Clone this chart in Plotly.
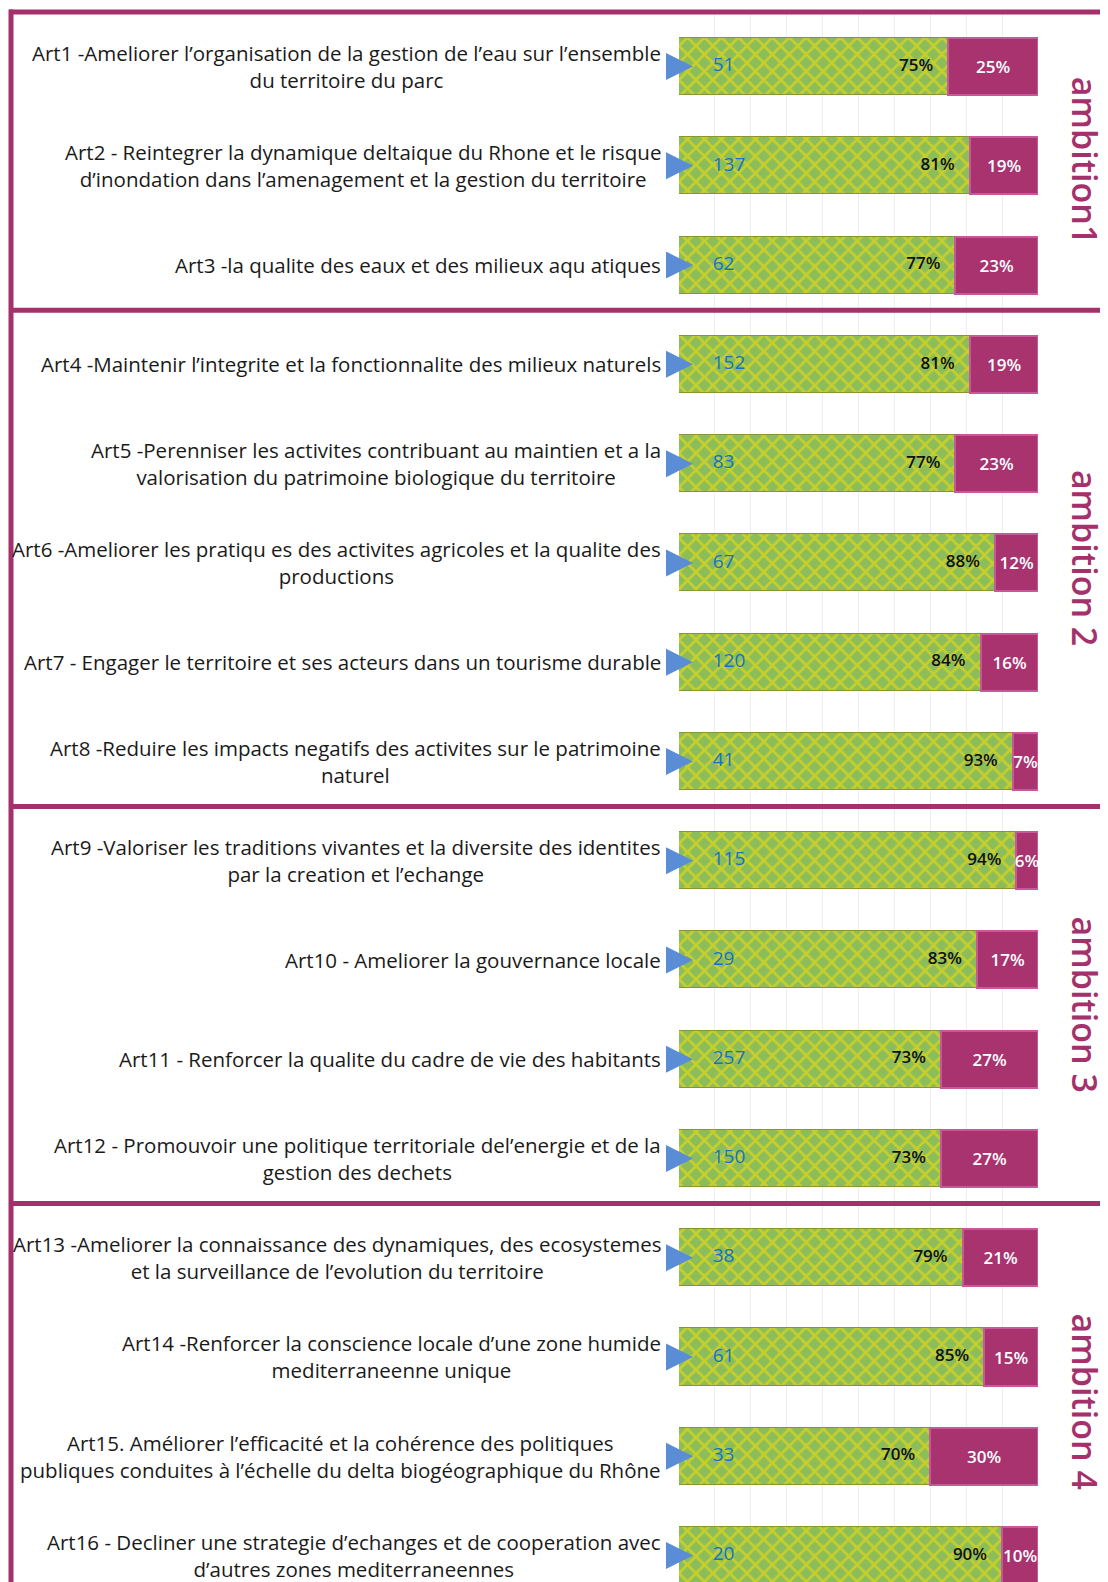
import plotly.graph_objects as go

# ---------------- data ----------------
labels = [
    "Art1 -Ameliorer l’organisation de la gestion de l’eau sur l’ensemble<br>du territoire du parc",
    "Art2 - Reintegrer la dynamique deltaique du Rhone et le risque<br>d’inondation dans l’amenagement et la gestion du territoire",
    "Art3 -la qualite des eaux et des milieux aqu atiques",
    "Art4 -Maintenir l’integrite et la fonctionnalite des milieux naturels",
    "Art5 -Perenniser les activites contribuant au maintien et a la<br>valorisation du patrimoine biologique du territoire",
    "Art6 -Ameliorer les pratiqu es des activites agricoles et la qualite des<br>productions",
    "Art7 - Engager le territoire et ses acteurs dans un tourisme durable",
    "Art8 -Reduire les impacts negatifs des activites sur le patrimoine<br>naturel",
    "Art9 -Valoriser les traditions vivantes et la diversite des identites<br>par la creation et l’echange",
    "Art10 - Ameliorer la gouvernance locale",
    "Art11 - Renforcer la qualite du cadre de vie des habitants",
    "Art12 - Promouvoir une politique territoriale del’energie et de la<br>gestion des dechets",
    "Art13 -Ameliorer la connaissance des dynamiques, des ecosystemes<br>et la surveillance de l’evolution du territoire",
    "Art14 -Renforcer la conscience locale d’une zone humide<br>mediterraneenne unique",
    "Art15. Améliorer l’efficacité et la cohérence des politiques<br>publiques conduites à l’échelle du delta biogéographique du Rhône",
    "Art16 - Decliner une strategie d’echanges et de cooperation avec<br>d’autres zones mediterraneennes",
]
counts = [51, 137, 62, 152, 83, 67, 120, 41, 115, 29, 257, 150, 38, 61, 33, 20]
pct_yes = [75, 81, 77, 81, 77, 88, 84, 93, 94, 83, 73, 73, 79, 85, 70, 90]
pct_no = [25, 19, 23, 19, 23, 12, 16, 7, 6, 17, 27, 27, 21, 15, 30, 10]
groups = ["ambition1", "ambition 2", "ambition 3", "ambition 4"]
group_sizes = [3, 5, 4, 4]

rows = list(range(1, len(labels) + 1))

# ---------------- styling ----------------
OFF = 8                      # default page (body) margin
W, H = 1108 - OFF, 1582 - OFF
L_PX, R_PX, T_PX = 679, 1038, 12   # page coordinates of plot area
PLOT_W = R_PX - L_PX
MAGENTA = "#A5316C"
YELLOW = "#C6CF2C"
GREEN = "#8BBD5A"
PINK = "#A8336F"
BLUE = "#1572C6"
LABEL_FONT = "Open Sans"


def px2paper(px):
    return (px - L_PX) / PLOT_W


fig = go.Figure()

fig.add_trace(go.Bar(
    y=rows, x=pct_yes, orientation="h", width=0.575,
    marker=dict(color=YELLOW,
                pattern=dict(shape="x", fgcolor=YELLOW, bgcolor=GREEN,
                             size=12, solidity=0.4, fillmode="replace"),
                line=dict(color="#8E9330", width=1)),
    hoverinfo="skip", showlegend=False,
))
fig.add_trace(go.Bar(
    y=rows, x=pct_no, orientation="h", width=0.575,
    marker=dict(color=PINK, line=dict(color="#C9589A", width=2)),
    text=[f"{v}%" for v in pct_no], textposition="inside", textangle=0,
    insidetextanchor="middle", constraintext="none",
    textfont=dict(color="white", size=17, family="Open Sans", weight=600),
    hoverinfo="skip", showlegend=False,
))

# percent labels at end of green segment
fig.add_trace(go.Scatter(
    y=rows, x=[v - 4.2 for v in pct_yes], mode="text",
    text=[f"{v}%" for v in pct_yes], textposition="middle left",
    textfont=dict(color="#111111", size=17, family="Open Sans", weight=600),
    hoverinfo="skip", showlegend=False, cliponaxis=False,
))

# counts in blue
fig.add_trace(go.Scatter(
    y=rows, x=[9.4] * len(rows), mode="text",
    text=[str(c) for c in counts], textposition="middle right",
    textfont=dict(color=BLUE, size=19, family="Open Sans"),
    hoverinfo="skip", showlegend=False, cliponaxis=False,
))

# blue arrows
fig.add_trace(go.Scatter(
    y=rows, x=[3.9] * len(rows), mode="markers",
    marker=dict(symbol="arrow-right", size=27, color="#5A8DD6",
                line=dict(width=0)),
    hoverinfo="skip", showlegend=False, cliponaxis=False,
))

annotations = []
for r, lab in zip(rows, labels):
    annotations.append(dict(
        xref="paper", yref="y", x=px2paper(663), y=r, text=lab,
        xanchor="right", yanchor="middle", align="center", showarrow=False,
        font=dict(family=LABEL_FONT, size=20.5, color="#1a1a1a"),
    ))

shapes = []
start = 0
for g, n in zip(groups, group_sizes):
    mid = start + (n + 1) / 2
    annotations.append(dict(
        xref="paper", yref="y", x=px2paper(1085), y=mid, yshift=5,
        text=g, textangle=90, showarrow=False, xanchor="center",
        yanchor="middle",
        font=dict(family="Open Sans", size=34, color=MAGENTA, weight=600),
    ))
    start += n
    if start < len(rows):
        yb = start + 0.5 - 0.045
        shapes.append(dict(type="line", xref="paper", yref="y",
                           x0=px2paper(9), x1=px2paper(1120), y0=yb, y1=yb,
                           line=dict(color=MAGENTA, width=5), layer="above"))

# frame: top line and left line
shapes.append(dict(type="line", xref="paper", yref="paper",
                   x0=px2paper(9), x1=px2paper(1120), y0=1.0, y1=1.0,
                   line=dict(color=MAGENTA, width=5), layer="above"))
shapes.append(dict(type="line", xref="paper", yref="paper",
                   x0=px2paper(11), x1=px2paper(11), y0=-0.02, y1=1.0016,
                   line=dict(color=MAGENTA, width=5), layer="above"))

plot_h = 1582 - T_PX
row_px = 99.26
y_top = 0.45
y_bot = y_top + plot_h / row_px

fig.update_layout(
    width=W, height=H,
    margin=dict(l=L_PX - OFF, r=1108 - R_PX, t=T_PX - OFF, b=0, pad=0),
    barmode="stack", bargap=0,
    plot_bgcolor="white", paper_bgcolor="white",
    xaxis=dict(range=[0, 100], showticklabels=False, showgrid=True,
               gridcolor="#EEEEEE", gridwidth=1, dtick=10, zeroline=False,
               showline=False, fixedrange=True),
    yaxis=dict(range=[y_bot, y_top], showticklabels=False, showgrid=False,
               zeroline=False, showline=False, fixedrange=True),
    annotations=annotations, shapes=shapes,
    showlegend=False,
)

fig.write_html("out.html")
